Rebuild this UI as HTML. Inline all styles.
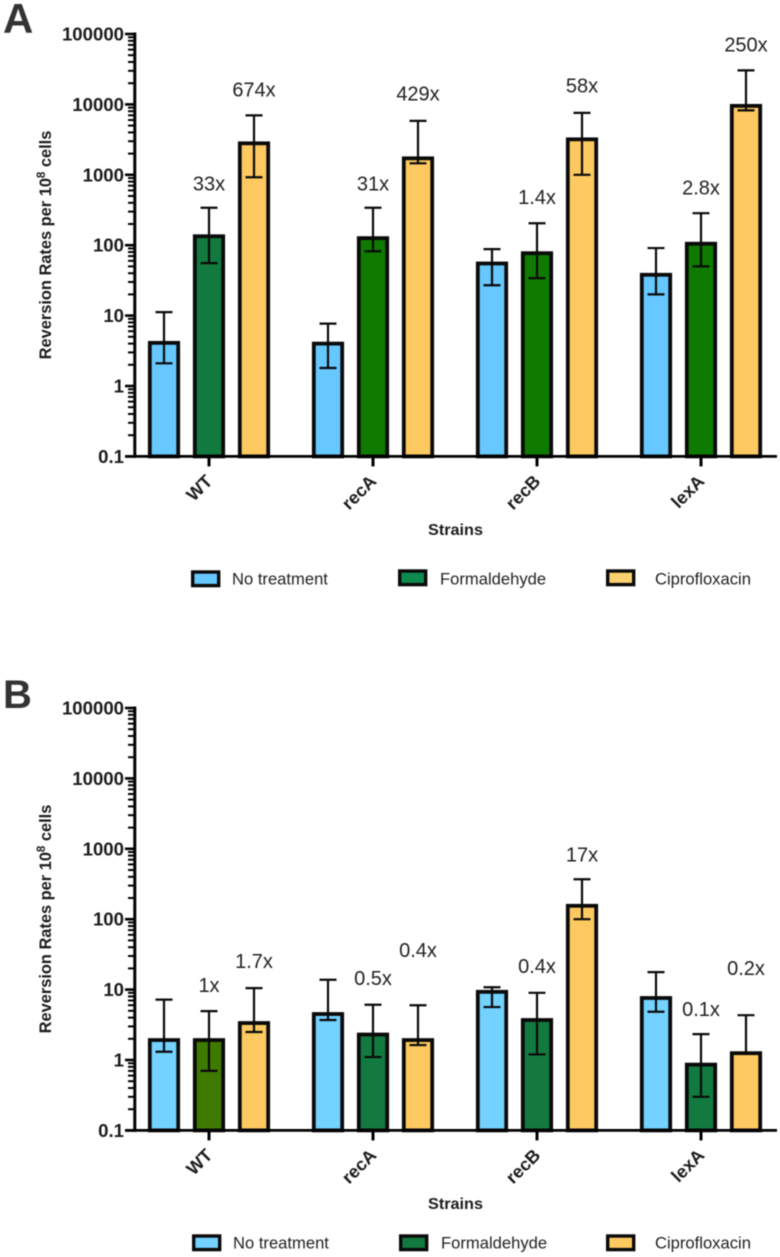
<!DOCTYPE html>
<html>
<head>
<meta charset="utf-8">
<title>Reversion rates</title>
<style>
html,body{margin:0;padding:0;background:#fff;}
svg{display:block;font-family:"Liberation Sans",Arial,sans-serif;filter:blur(0.4px);}
</style>
</head>
<body>
<svg id="figure" xmlns="http://www.w3.org/2000/svg" width="780" height="1257" viewBox="0 0 780 1257">
<rect width="780" height="1257" fill="#fff"/>
</svg>
<script>
// ---- Shared categories and labels ----
const strains = ["WT", "recA", "recB", "lexA"];
const treatments = ["No treatment", "Formaldehyde", "Ciprofloxacin"];
const tickLabels = ["0.1", "1", "10", "100", "1000", "10000", "100000"];
const tickValues = [0.1, 1, 10, 100, 1000, 10000, 100000];

// ---- Panel A values: [No treatment, Formaldehyde, Ciprofloxacin] per strain ----
const aMeans = [[4.1, 134, 2800], [4.0, 126, 1714], [55, 77, 3190], [38, 105, 9530]];
const aHigh = [[11.2, 340, 6980], [7.7, 340, 5830], [88, 205, 7580], [91, 285, 30400]];
const aLow = [[2.1, 55.6, 922], [1.8, 82, 1456], [27, 34, 1000], [20, 50, 8220]];
const aFoldText = [[null, "33x", "674x"], [null, "31x", "429x"], [null, "1.4x", "58x"], [null, "2.8x", "250x"]];
const aFoldLevel = [[null, 757, 16300], [null, 757, 14300], [null, 480, 18600], [null, 665, 71000]];
const aGreens = ["#127a3e", "#0f7a00", "#0f7a00", "#0f7a00"];

// ---- Panel B values ----
const bMeans = [[1.92, 1.92, 3.35], [4.5, 2.3, 1.92], [9.3, 3.7, 155], [7.6, 0.86, 1.25]];
const bHigh = [[7.2, 4.95, 10.5], [13.8, 6.1, 6.0], [10.8, 9.0, 369], [17.7, 2.33, 4.33]];
const bLow = [[1.31, 0.70, 2.5], [3.7, 1.1, 1.63], [5.65, 1.2, 100], [4.84, 0.30, null]];
const bFoldText = [[null, "1x", "1.7x"], [null, "0.5x", "0.4x"], [null, "0.4x", "17x"], [null, "0.1x", "0.2x"]];
const bFoldLevel = [[null, 11.6, 25.4], [null, 14.6, 36.3], [null, 21.5, 836], [null, 5.3, 20.2]];
const bGreens = ["#3f7a00", "#127a3e", "#127a3e", "#127a3e"];

const svg = document.getElementById('figure');
const NS = 'http://www.w3.org/2000/svg';

function make(tag, attrs, text) {
  const el = document.createElementNS(NS, tag);
  for (const k in attrs) el.setAttribute(k, attrs[k]);
  if (text !== undefined) el.textContent = text;
  return el;
}

function drawPanel(cfg) {
  const g = make('g', {});
  
  
  svg.appendChild(g);

  const DECADE = 70.4;
  const y = v => cfg.oneY - Math.log10(v) * DECADE;
  const groupX = i => 209 + i * 164;
  const barX = (i, j) => groupX(i) + (j - 1) * 45;
  const baseY = y(0.1);
  const BAR_W = 28.4;

  // panel letter
  const letter = make('text', {x: cfg.letterX, y: cfg.letterY, 'font-size': cfg.letterSize, 'font-weight': 'bold', fill: '#333'}, cfg.letter);
  
  
  g.appendChild(letter);

  // bars, then error bars
  strains.forEach((s, i) => {
    treatments.forEach((t, j) => {
      const mean = cfg.means[i][j];
      const fill = j === 0 ? cfg.blue : j === 1 ? cfg.greens[i] : '#fdc960';
      const bar = make('rect', {x: barX(i, j) - BAR_W / 2, y: y(mean), width: BAR_W, height: baseY - y(mean), fill: fill, stroke: '#0a0a0a', 'stroke-width': 3.8});
      
      
      g.appendChild(bar);

      const cx = barX(i, j);
      const hi = cfg.high[i][j];
      const lo = cfg.low[i][j];
      const bottom = lo === null ? mean : lo;
      const stem = make('line', {x1: cx, x2: cx, y1: y(hi), y2: y(bottom), stroke: '#0a0a0a', 'stroke-width': 2.2});
      
      
      g.appendChild(stem);

      const capHi = make('line', {x1: cx - 8.5, x2: cx + 8.5, y1: y(hi), y2: y(hi), stroke: '#0a0a0a', 'stroke-width': 2.2});
      
      
      g.appendChild(capHi);

      if (lo !== null) {
        const capLo = make('line', {x1: cx - 8.5, x2: cx + 8.5, y1: y(lo), y2: y(lo), stroke: '#0a0a0a', 'stroke-width': 2.2});
        
        
        g.appendChild(capLo);
      }

      if (cfg.foldText[i][j] !== null) {
        const fold = make('text', {x: cx, y: y(cfg.foldLevel[i][j]) + 7, 'font-size': 20, 'text-anchor': 'middle', fill: '#222'}, cfg.foldText[i][j]);
        
        
        g.appendChild(fold);
      }
    });
  });

  // y axis
  const yLine = make('line', {x1: 134.8, x2: 134.8, y1: y(100000) - 1.5, y2: baseY + 1.5, stroke: '#000', 'stroke-width': 3});
  
  
  g.appendChild(yLine);

  tickValues.forEach((v, k) => {
    const major = make('line', {x1: 125, x2: 135, y1: y(v), y2: y(v), stroke: '#000', 'stroke-width': 2.6});
    
    
    g.appendChild(major);

    const label = make('text', {x: 124, y: y(v) + 6.5, 'font-size': 18.6, 'font-weight': 'bold', 'text-anchor': 'end', fill: '#1c1c1c'}, tickLabels[k]);
    
    
    g.appendChild(label);

    if (k < tickValues.length - 1) {
      for (let m = 2; m <= 9; m++) {
        const minor = make('line', {x1: 128, x2: 135, y1: y(v * m), y2: y(v * m), stroke: '#000', 'stroke-width': 2});
        
        
        g.appendChild(minor);
      }
    }
  });

  // x axis
  const xLine = make('line', {x1: 125, x2: 777, y1: baseY, y2: baseY, stroke: '#000', 'stroke-width': 2.8});
  
  
  g.appendChild(xLine);

  strains.forEach((s, i) => {
    const tick = make('line', {x1: groupX(i), x2: groupX(i), y1: baseY, y2: baseY + 10, stroke: '#000', 'stroke-width': 3});
    
    
    g.appendChild(tick);

    const lx = groupX(i) + 4.5;
    const ly = baseY + 26;
    const label = make('text', {x: lx, y: ly, 'font-size': 18, 'font-weight': 'bold', 'text-anchor': 'end', fill: '#1c1c1c', transform: 'rotate(-45 ' + lx + ' ' + ly + ')'}, s);
    
    
    g.appendChild(label);
  });

  // axis titles
  const yTitle = make('text', {transform: 'translate(51 ' + (cfg.oneY - 141) + ') rotate(-90)', 'font-size': 16.4, 'font-weight': 'bold', 'text-anchor': 'middle', fill: '#1c1c1c'});
  
  
  yTitle.appendChild(make('tspan', {}, 'Reversion Rates per 10'));
  yTitle.appendChild(make('tspan', {dy: -6, 'font-size': 11.5}, '8'));
  yTitle.appendChild(make('tspan', {dy: 6}, ' cells'));
  g.appendChild(yTitle);

  const xTitle = make('text', {x: 455.5, y: cfg.oneY + 149, 'font-size': 16, 'font-weight': 'bold', 'text-anchor': 'middle', fill: '#1c1c1c', textLength: 55, lengthAdjust: 'spacingAndGlyphs'}, 'Strains');
  
  
  g.appendChild(xTitle);

  // legend
  treatments.forEach((t, j) => {
    const sw = make('rect', {x: cfg.legendSwatchX[j] + 1.7, y: cfg.legendY + cfg.legendDy[j] - 7, width: 26, height: 13.6, fill: cfg.legendColors[j], stroke: '#0a0a0a', 'stroke-width': 3.4});
    
    
    g.appendChild(sw);

    const txt = make('text', {x: cfg.legendTextX[j], y: cfg.legendY + 5.5, 'font-size': 16.6, fill: '#222'}, t);
    
    
    g.appendChild(txt);
  });
}

drawPanel({
  letter: 'A', letterX: 3, letterY: 33, letterSize: 42,
  oneY: 386, blue: '#66c8ff', greens: aGreens,
  means: aMeans, high: aHigh, low: aLow, foldText: aFoldText, foldLevel: aFoldLevel,
  legendY: 579, legendDy: [0, -1, -1],
  legendSwatchX: [191, 398, 606], legendTextX: [232, 440, 655],
  legendColors: ['#66c8ff', '#0f8a4e', '#fdd070']
});

drawPanel({
  letter: 'B', letterX: 3, letterY: 708, letterSize: 40,
  oneY: 1060, blue: '#73d2ff', greens: bGreens,
  means: bMeans, high: bHigh, low: bLow, foldText: bFoldText, foldLevel: bFoldLevel,
  legendY: 1243, legendDy: [0, 0, 0],
  legendSwatchX: [192, 399, 606], legendTextX: [233, 441, 655],
  legendColors: ['#73d2ff', '#127a3e', '#fdc960']
});
</script>
</body>
</html>
